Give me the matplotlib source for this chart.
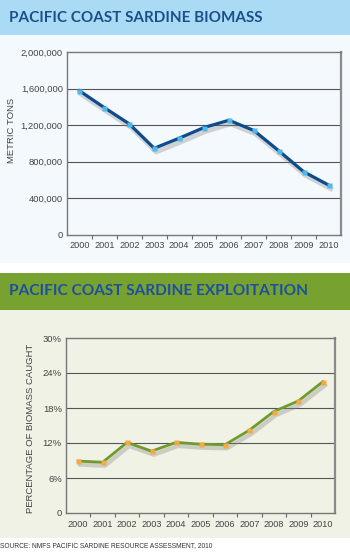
import matplotlib
matplotlib.use("Agg")
import matplotlib.pyplot as plt
import matplotlib.patheffects as pe
from matplotlib.patches import Rectangle

years = ["2000", "2001", "2002", "2003", "2004", "2005", "2006", "2007", "2008", "2009", "2010"]
biomass = [1575000, 1390000, 1212000, 945000, 1055000, 1172000, 1252000, 1140000, 918000, 688000, 542000]
exploitation = [8.9, 8.7, 12.1, 10.6, 12.1, 11.8, 11.7, 14.2, 17.4, 19.2, 22.5]
biomass_ticks = [0, 400000, 800000, 1200000, 1600000, 2000000]
biomass_ticklabels = ["0", "400,000", "800,000", "1,200,000", "1,600,000", "2,000,000"]
expl_ticks = [0, 6, 12, 18, 24, 30]
expl_ticklabels = ["0", "6%", "12%", "18%", "24%", "30%"]

W, H = 350, 559
fig = plt.figure(figsize=(W / 100, H / 100), dpi=100)
fig.patch.set_facecolor("white")

def band(y0, y1, color):
    fig.patches.append(Rectangle((0, 1 - y1 / H), 1, (y1 - y0) / H,
                                 transform=fig.transFigure, facecolor=color,
                                 edgecolor="none", zorder=-10))

band(0, 35, "#aadaf4")
band(35, 263, "#f4f9fd")
band(273, 310, "#78a22f")
band(310, 538, "#eff2e5")

FONT = "Liberation Sans"
TCOL = "#444444"

fig.text(9 / W, 1 - 18 / H, "PACIFIC COAST SARDINE BIOMASS", fontsize=11.0,
         fontweight="bold", color="#1b4f8c", family="Lato", va="center", ha="left")
fig.text(9 / W, 1 - 291 / H, "PACIFIC COAST SARDINE EXPLOITATION", fontsize=11.1,
         fontweight="bold", color="#1d4fa0", family="Lato", va="center", ha="left")

def make_axes(l, r, t, b):
    return fig.add_axes([l / W, 1 - b / H, (r - l) / W, (b - t) / H])

def style(ax, facecolor, ticks, ticklabels, ymax):
    ax.set_facecolor(facecolor)
    ax.set_xlim(-0.5, len(years) - 0.5)
    ax.set_ylim(0, ymax)
    ax.set_yticks(ticks)
    ax.set_yticklabels(ticklabels, family=FONT, fontsize=6.8, color=TCOL)
    ax.set_xticks(range(len(years)))
    ax.set_xticklabels(years, family=FONT, fontsize=6.6, color=TCOL)
    ax.set_xticks([i + 0.5 for i in range(len(years) - 1)], minor=True)
    ax.tick_params(axis="x", which="major", length=0, pad=5)
    ax.tick_params(axis="x", which="minor", length=3, width=0.8, color="#666666", direction="out")
    ax.tick_params(axis="y", length=0, pad=3)
    for s in ax.spines.values():
        s.set_color("#777777")
        s.set_linewidth(1.0)
    ax.spines["right"].set_linewidth(1.6)
    ax.spines["right"].set_color("#8a8a8a")
    for t in ticks[1:-1]:
        ax.axhline(t, color="#555555", lw=0.8, zorder=1)

def draw_series(ax, values, lcolor, mcolor, lw):
    x = range(len(years))
    ax.plot(x, values, color=lcolor, lw=lw, zorder=3, solid_joinstyle="round",
            path_effects=[pe.SimpleLineShadow(offset=(1.5, -2.5), shadow_color="#8a8a8a",
                                              alpha=0.35, linewidth=lw * 1.6),
                          pe.Normal()])
    ax.plot(x, values, linestyle="none", marker="s", markersize=3.6,
            markerfacecolor=mcolor, markeredgecolor="none", zorder=4)

ax1 = make_axes(67, 341, 52, 234.5)
style(ax1, "#f4f9fd", biomass_ticks, biomass_ticklabels, 2000000)
draw_series(ax1, biomass, "#0f4a8c", "#4fb9ea", 2.3)
fig.text(12 / W, 1 - 130 / H, "METRIC TONS", rotation=90, family=FONT, fontsize=6.8,
         color=TCOL, ha="center", va="center")

ax2 = make_axes(66, 335, 338, 513)
style(ax2, "#eff2e5", expl_ticks, expl_ticklabels, 30)
draw_series(ax2, exploitation, "#6e9b2c", "#f5a843", 2.0)
fig.text(31 / W, 1 - 428 / H, "PERCENTAGE OF BIOMASS CAUGHT", rotation=90, family=FONT,
         fontsize=6.8, color=TCOL, ha="center", va="center")

fig.text(0 / W, 1 - 546 / H, "SOURCE: NMFS PACIFIC SARDINE RESOURCE ASSESSMENT, 2010",
         family=FONT, fontsize=4.8, color="#333333", ha="left", va="center")

fig.savefig("out.png", dpi=100, facecolor=fig.get_facecolor())
